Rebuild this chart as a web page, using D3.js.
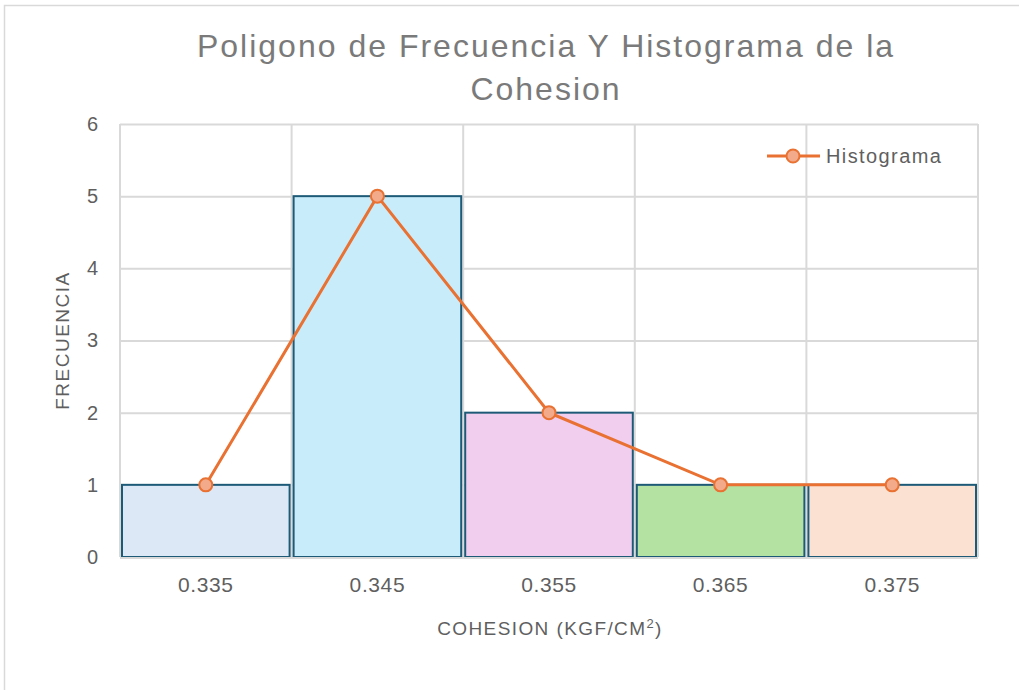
<!DOCTYPE html>
<html>
<head>
<meta charset="utf-8">
<script src="https://cdn.jsdelivr.net/npm/d3@7"></script>
<style>
html,body{margin:0;padding:0;background:#fff;}
svg{display:block;}
text{font-family:"Liberation Sans",Arial,sans-serif;}
</style>
</head>
<body>
<svg id="chart" width="1019" height="690"></svg>
<script>
const categories = ["0.335","0.345","0.355","0.365","0.375"];
const frequencies = [1,5,2,1,1];
const barColors = ["#dce8f5","#c9ecfa","#f1cdee","#b3e2a3","#fbe1d2"];
const yTicks = [0,1,2,3,4,5,6];
const titleLines = ["Poligono de Frecuencia Y Histograma de la","Cohesion"];
const seriesName = "Histograma";

const svg = d3.select("#chart");
const W = 1019, H = 690;
const m = {left:120, right:41, top:124, bottom:133};
const x = d3.scaleBand().domain(categories).range([m.left, W - m.right]).padding(0);
const y = d3.scaleLinear().domain([0,6]).range([H - m.bottom, m.top]);

// chart border
svg.append("rect").attr("x",4.5).attr("y",5.5).attr("width",1100).attr("height",1000)
  .attr("fill","#fff").attr("stroke","#d9d9d9").attr("stroke-width",1.5);

// grid horizontal
const gy = svg.append("g").attr("transform",`translate(${m.left},0)`)
  .call(d3.axisLeft(y).tickValues(yTicks).tickSize(-(W-m.left-m.right)).tickFormat(d3.format("d")).tickPadding(22));
gy.select(".domain").remove();
gy.selectAll(".tick line").attr("stroke","#d9d9d9").attr("stroke-width",2);
gy.selectAll(".tick text").attr("font-size",20).style("fill","#5f5f5f").style("font-family","'Liberation Sans',Arial,sans-serif");

// vertical grid at band edges
const edges = categories.map(c => x(c)).concat([x(categories[categories.length-1]) + x.bandwidth()]);
svg.append("g").selectAll("line").data(edges).join("line")
  .attr("x1",d=>d).attr("x2",d=>d).attr("y1",y(6)).attr("y2",y(0))
  .attr("stroke","#d9d9d9").attr("stroke-width",2);

// bars
svg.append("g").selectAll("rect").data(categories).join("rect")
  .attr("x",d=>x(d)+2).attr("width",x.bandwidth()-4)
  .attr("y",(d,i)=>y(frequencies[i])).attr("height",(d,i)=>y(0)-y(frequencies[i]))
  .attr("fill",(d,i)=>barColors[i]).attr("stroke","#1d5a78").attr("stroke-width",2);

// x axis baseline
svg.append("line").attr("x1",m.left).attr("x2",W-m.right).attr("y1",y(0)+1).attr("y2",y(0)+1)
  .attr("stroke","#d9d9d9").attr("stroke-width",2);

const gx = svg.append("g").attr("transform",`translate(0,${y(0)})`)
  .call(d3.axisBottom(x).tickSize(0).tickPadding(20));
gx.select(".domain").remove();
gx.selectAll(".tick text").attr("font-size",21).attr("letter-spacing","0.6px").style("fill","#5f5f5f").style("font-family","'Liberation Sans',Arial,sans-serif");

// polygon line
const line = d3.line().x((d,i)=>x(categories[i])+x.bandwidth()/2).y(d=>y(d));
svg.append("path").datum(frequencies).attr("d",line).attr("fill","none")
  .attr("stroke","#e97132").attr("stroke-width",3);
svg.append("g").selectAll("circle").data(frequencies).join("circle")
  .attr("cx",(d,i)=>x(categories[i])+x.bandwidth()/2).attr("cy",d=>y(d)).attr("r",6.5)
  .attr("fill","#f2aa8a").attr("stroke","#e97132").attr("stroke-width",2);

// title
const t = svg.append("text").attr("text-anchor","middle").attr("font-size",32)
  .attr("letter-spacing","2px").style("fill","#7a7a7a");
titleLines.forEach((l,i)=> t.append("tspan").attr("x",546).attr("y",57+i*43).text(l));

// axis titles
svg.append("text").attr("x",550).attr("y",635).attr("text-anchor","middle").attr("font-size",19)
  .attr("letter-spacing","1.4px").style("fill","#5f5f5f")
  .html('COHESION (KGF/CM<tspan dy="-7" font-size="13">2</tspan><tspan dy="7">)</tspan>');
svg.append("text").attr("transform",`translate(69,${(y(0)+y(6))/2}) rotate(-90)`)
  .attr("text-anchor","middle").attr("font-size",19).attr("letter-spacing","1.5px").style("fill","#5f5f5f").text("FRECUENCIA");

// legend
const lg = svg.append("g");
lg.append("line").attr("x1",767).attr("x2",820).attr("y1",156).attr("y2",156).attr("stroke","#e97132").attr("stroke-width",3);
lg.append("circle").attr("cx",793).attr("cy",156).attr("r",6.5).attr("fill","#f2aa8a").attr("stroke","#e97132").attr("stroke-width",2);
lg.append("text").attr("x",826).attr("y",163).attr("font-size",20).attr("letter-spacing","1.4px").style("fill","#5f5f5f").text(seriesName);
</script>
</body>
</html>
